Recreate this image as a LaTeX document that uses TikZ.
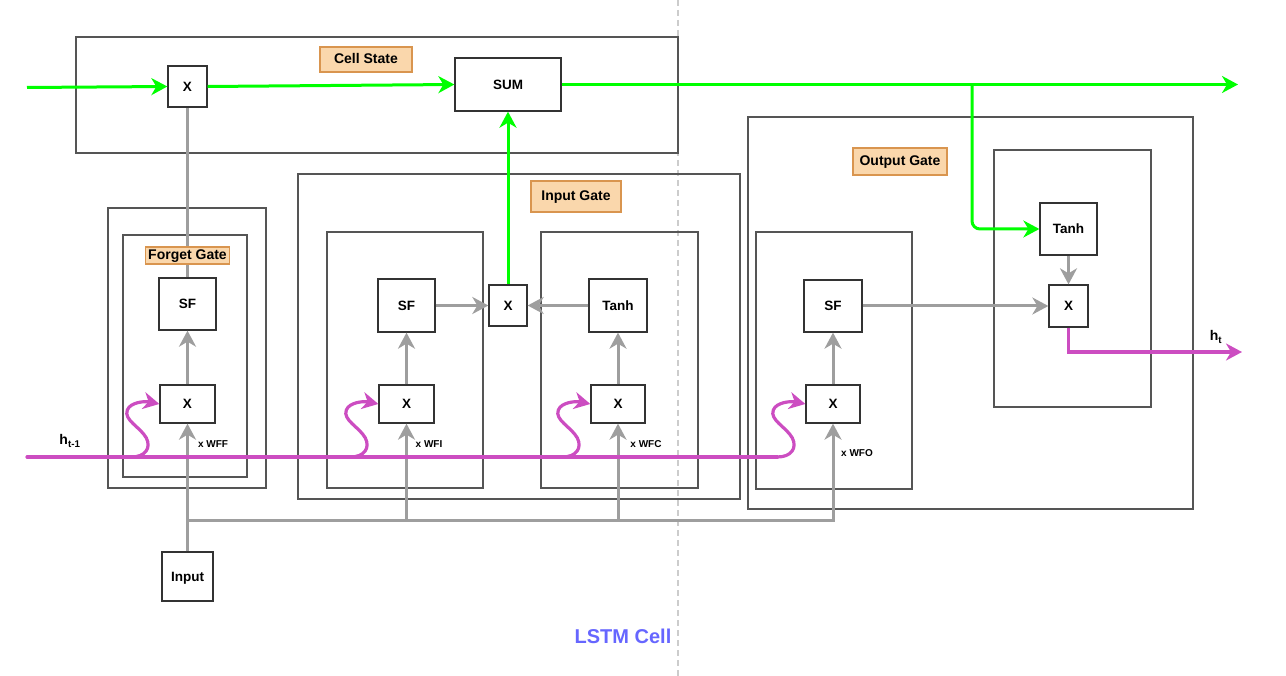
\documentclass[tikz,border=0pt]{standalone}
\usepackage{fontspec}
\setmainfont{Liberation Sans}
\usetikzlibrary{arrows.meta,calc}

\definecolor{cellgreen}{HTML}{00FF00}
\definecolor{hidmag}{HTML}{CC4DC1}
\definecolor{flowgray}{HTML}{9E9E9E}
\definecolor{labfill}{HTML}{FAD7AC}
\definecolor{labdraw}{HTML}{D9954F}
\definecolor{boxgray}{HTML}{555555}
\definecolor{titleblue}{HTML}{6666FF}

\tikzset{
  opbox/.style={draw=black!80, line width=1.3pt, fill=white, inner sep=0pt,
    text height=9.7pt, text depth=0pt, font=\fontsize{13.5}{15}\selectfont\bfseries},
  gatebox/.style={draw=boxgray, line width=1.4pt},
  gatelabel/.style={draw=labdraw, fill=labfill, line width=1.2pt, inner sep=0pt,
    text height=10pt, text depth=1pt, font=\fontsize{14}{16}\selectfont\bfseries},
  tip/.style={-{Stealth[length=16pt,width=17pt,inset=5pt]}},
  greenline/.style={draw=cellgreen, line width=3pt},
  grayline/.style={draw=flowgray, line width=3pt},
  magline/.style={draw=hidmag, line width=3.2pt, line cap=round},
  wlabel/.style={font=\fontsize{10}{12}\selectfont\bfseries, inner sep=0pt}
}

\begin{document}
\begin{tikzpicture}[x=1pt,y=-1pt]
    \useasboundingbox (0,0) rectangle (1286,676);
    \draw [black!20, line width=1.5pt, dash pattern=on 6pt off 4pt] (678,0) -- (678,676);
    % gate frames
    \draw [gatebox] (76,37) rectangle (678,153);
    \draw [gatebox] (108,208) rectangle (266,488);
    \draw [gatebox] (123,235) rectangle (247,477);
    \draw [gatebox] (298,174) rectangle (740,499);
    \draw [gatebox] (327,232) rectangle (483,488);
    \draw [gatebox] (541,232) rectangle (698,488);
    \draw [gatebox] (748,117) rectangle (1193,509);
    \draw [gatebox] (756,232) rectangle (912,489);
    \draw [gatebox] (994,150) rectangle (1151,407);
    % operations
    \node [opbox, minimum width=39pt, minimum height=41pt] (fx) at (187.5,86.5) {X};
    \node [opbox, minimum width=106pt, minimum height=53pt] (sum) at (508,84.5) {SUM};
    \node [opbox, minimum width=57pt, minimum height=52pt] (fsf) at (187.5,304) {SF};
    \node [opbox, minimum width=55pt, minimum height=38pt] (fmx) at (187.5,404) {X};
    \node [opbox, minimum width=51pt, minimum height=49pt] (input) at (187.5,576.5) {Input};
    \node [opbox, minimum width=57pt, minimum height=53pt] (isf) at (406.5,305.5) {SF};
    \node [opbox, minimum width=38pt, minimum height=41pt] (ix) at (508,305.5) {X};
    \node [opbox, minimum width=58pt, minimum height=53pt] (ctanh) at (618,305.5) {Tanh};
    \node [opbox, minimum width=55pt, minimum height=38pt] (imx) at (406.5,404) {X};
    \node [opbox, minimum width=54pt, minimum height=38pt] (cmx) at (618,404) {X};
    \node [opbox, minimum width=58pt, minimum height=52pt] (osf) at (833,306) {SF};
    \node [opbox, minimum width=54pt, minimum height=38pt] (omx) at (833,404) {X};
    \node [opbox, minimum width=57pt, minimum height=52pt] (otanh) at (1068.5,229) {Tanh};
    \node [opbox, minimum width=39pt, minimum height=42pt] (ox) at (1068.5,306) {X};
    % cell state
    \coordinate (cin) at (27,87.5);
    \coordinate (cout) at (1238,84.5);
    \coordinate (cbr) at (972,84.5);
    \draw [greenline, tip] (cin) -- (fx.west);
    \draw [greenline, tip] (fx.east) -- (sum.west);
    \draw [greenline, tip] (sum.east) -- (cout);
    \draw [greenline, tip, rounded corners=8pt] (cbr) |- (otanh.west);
    \draw [greenline, tip] (ix.north) -- (sum.south);
    % gray flow
    \draw [grayline] (fsf.north) -- (fx.south);
    \draw [grayline, tip] (fmx.north) -- (fsf.south);
    \draw [grayline, tip] (imx.north) -- (isf.south);
    \draw [grayline, tip] (cmx.north) -- (ctanh.south);
    \draw [grayline, tip] (omx.north) -- (osf.south);
    \draw [grayline, tip] (isf.east) -- (ix.west);
    \draw [grayline, tip] (ctanh.west) -- (ix.east);
    \draw [grayline, tip] (osf.east) -- (ox.west);
    \draw [grayline, tip] (otanh.south) -- (ox.north);
    \coordinate (bus) at (187.5,520);
    \draw [grayline, tip] (input.north) -- (fmx.south);
    \draw [grayline, tip] (bus) -| (omx.south);
    \draw [grayline, tip] (bus -| imx) -- (imx.south);
    \draw [grayline, tip] (bus -| cmx) -- (cmx.south);
    % hidden state
    \coordinate (hin) at (27,457);
    \coordinate (hout) at (1242,352);
    \draw [magline] (hin) -- ($(omx.west)+(-28,53)$);
    \foreach \g in {fmx,imx,cmx,omx}
        \draw [magline, tip, shift={(\g.west)}] (-28,53) .. controls (-14,53) and (-8,44) .. (-13,34)
            .. controls (-19,23) and (-36,16) .. (-32,6) .. controls (-29,-2) and (-14,-3) .. (0,0);
    \draw [magline, tip, line cap=butt] (ox.south) |- (hout);
    % labels
    \node [gatelabel, minimum width=92pt, minimum height=25pt] (cslab) at (366,59.5) {Cell State};
    \node [gatelabel, minimum width=84pt, minimum height=17pt] (fglab) at (187.5,255.5) {Forget Gate};
    \node [gatelabel, minimum width=90pt, minimum height=31pt] (iglab) at (576,196.5) {Input Gate};
    \node [gatelabel, minimum width=94pt, minimum height=27pt] (oglab) at (900,161.5) {Output Gate};
    \node [wlabel] (wff) at (213,444) {x WFF};
    \node [wlabel] (wfi) at (429,444) {x WFI};
    \node [wlabel] (wfc) at (646,444) {x WFC};
    \node [wlabel] (wfo) at (857,453) {x WFO};
    \node [font=\fontsize{14}{16}\selectfont\bfseries, inner sep=0pt] (hlab) at (70,441) {h\textsubscript{t-1}};
    \node [font=\fontsize{14}{16}\selectfont\bfseries, inner sep=0pt] (htlab) at (1216,337) {h\textsubscript{t}};
    \node [font=\fontsize{20}{24}\selectfont\bfseries, text=titleblue] (title) at (623,636) {LSTM Cell};
\end{tikzpicture}
\end{document}
